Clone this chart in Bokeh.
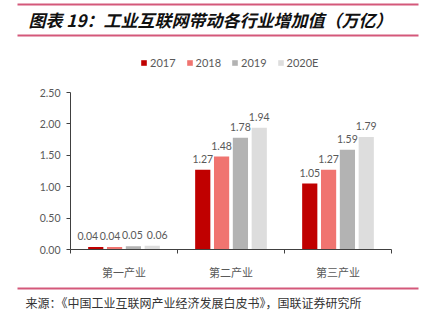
from bokeh.plotting import figure
from bokeh.models import (ColumnDataSource, FixedTicker, Label, Legend, LegendItem,
                          LabelSet, NumeralTickFormatter, Range1d)
from bokeh.core.properties import value
from bokeh.layouts import column
from bokeh.transform import dodge
from bokeh.embed import file_html
from bokeh.resources import INLINE

categories = ["第一产业", "第二产业", "第三产业"]
series = ["2017", "2018", "2019", "2020E"]
v2017 = [0.04, 1.27, 1.05]
v2018 = [0.04, 1.48, 1.27]
v2019 = [0.05, 1.78, 1.59]
v2020 = [0.06, 1.94, 1.79]
colors = ["#C00000", "#F07470", "#B3B3B3", "#DDDDDD"]
y_ticks = [0, 0.5, 1.0, 1.5, 2.0, 2.5]
y_max = 2.5

title_text = "图表 19：工业互联网带动各行业增加值（万亿）"
source_text = "来源：《中国工业互联网产业经济发展白皮书》，国联证券研究所"

FONT = "Lato"
CJK = "Noto Sans CJK SC"
GRAY = "#595959"
LINE = "#D4587A"
W = 422

# layout (page pixels)
MAIN_TOP, MAIN_H = 40, 242
FRAME_TOP, AXIS_TOP, AXIS_BOTTOM = 48, 92, 249


def blank(h):
    f = figure(width=W, height=h, output_backend="svg", toolbar_location=None,
               x_range=Range1d(0, W), y_range=Range1d(h, 0),
               min_border=0, x_axis_location=None, y_axis_location=None,
               frame_align=False)
    f.outline_line_color = None
    f.xgrid.visible = False
    f.ygrid.visible = False
    return f


# ---------- header (title, rules) ----------
top = blank(MAIN_TOP)
top.quad(left=[17, 17], right=[418, 418], top=[3, 34], bottom=[5, 36],
         fill_color=LINE, line_color=None)
top.add_layout(Label(x=28, y=19, text=title_text, text_font=CJK, text_font_size="17px",
                     text_font_style="bold italic", text_color="#111111",
                     text_baseline="middle"))

# ---------- main chart ----------
data = dict(x=[i + 0.5 for i in range(len(categories))])
vals = [v2017, v2018, v2019, v2020]
nudge = [[-8, 0, 0], [-4.5, 0, 0], [-1, 0, 0], [5, 0, 0]]  # label spreading in crowded group
for s, v, n in zip(series, vals, nudge):
    data["y" + s] = v
    data["t" + s] = ["%.2f" % a for a in v]
    data["n" + s] = n
src = ColumnDataSource(data)

y_end = y_max * (AXIS_BOTTOM - FRAME_TOP) / (AXIS_BOTTOM - AXIS_TOP)
p = figure(width=W, height=MAIN_H, output_backend="svg", toolbar_location=None,
           x_range=Range1d(0, 3), y_range=Range1d(0, y_end), frame_align=False,
           min_border_left=70, min_border_right=31,
           min_border_top=FRAME_TOP - MAIN_TOP,
           min_border_bottom=MAIN_TOP + MAIN_H - AXIS_BOTTOM)
p.outline_line_color = None
p.xgrid.visible = False
p.ygrid.visible = False

offsets = [-0.264, -0.088, 0.088, 0.264]
items = []
for s, off, c in zip(series, offsets, colors):
    r = p.vbar(x=dodge("x", off), top="y" + s, width=0.142, source=src,
               fill_color=c, line_color=None)
    items.append(LegendItem(label=s, renderers=[r]))
    p.add_layout(LabelSet(x=dodge("x", off), y="y" + s, text="t" + s, source=src,
                          x_offset="n" + s,
                          text_align="center", text_baseline="bottom", y_offset=7,
                          text_font=value(FONT), text_font_size="10.5px", text_color=GRAY))

legend = Legend(items=items, orientation="horizontal",
                location=(70, AXIS_BOTTOM - 69),
                glyph_width=7, glyph_height=7, label_standoff=3, spacing=10,
                padding=0, margin=0, label_height=12,
                label_text_font=FONT, label_text_font_size="11px", label_text_color=GRAY,
                border_line_color=None, background_fill_alpha=0)
p.add_layout(legend)

p.yaxis.bounds = (0, y_max)
p.yaxis.ticker = FixedTicker(ticks=y_ticks)
p.yaxis.formatter = NumeralTickFormatter(format="0.00")
p.yaxis.axis_line_color = "#404040"
p.yaxis.major_tick_line_color = "#404040"
p.yaxis.major_tick_in = 0
p.yaxis.major_tick_out = 4
p.yaxis.minor_tick_line_color = None
p.yaxis.major_label_standoff = 6
p.yaxis.major_label_text_font = FONT
p.yaxis.major_label_text_font_size = "10.5px"
p.yaxis.major_label_text_color = GRAY

p.xaxis.ticker = FixedTicker(ticks=[i + 0.5 for i in range(len(categories))],
                             minor_ticks=list(range(len(categories) + 1)))
p.xaxis.major_label_overrides = {i + 0.5: c for i, c in enumerate(categories)}
p.xaxis.major_tick_line_color = None
p.xaxis.minor_tick_line_color = "#404040"
p.xaxis.minor_tick_in = 0
p.xaxis.minor_tick_out = 4
p.xaxis.axis_line_color = "#404040"
p.xaxis.major_label_standoff = 8
p.xaxis.major_label_text_font = CJK
p.xaxis.major_label_text_font_size = "11px"
p.xaxis.major_label_text_color = GRAY

# ---------- footer (rule, source) ----------
bot = blank(322 - MAIN_TOP - MAIN_H)
bot.quad(left=[17], right=[418], top=[5], bottom=[7], fill_color=LINE, line_color=None)
bot.add_layout(Label(x=25, y=20, text=source_text, text_font=CJK, text_font_size="12px",
                     text_color="#333333", text_baseline="middle"))

layout = column(top, p, bot, spacing=0)
open("out.html", "w").write(file_html(layout, INLINE))
